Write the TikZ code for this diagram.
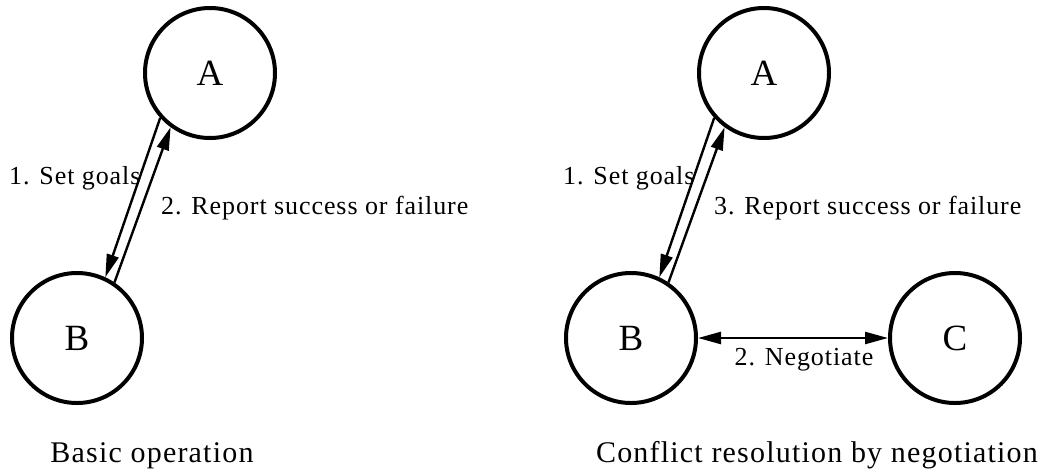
\documentclass[tikz,border=0pt]{standalone}
\usepackage{fontspec}
\setmainfont{Liberation Serif}
\newfontfamily\lblfont[LetterSpace=3.5]{Liberation Serif}
\newfontfamily\capfont[LetterSpace=4]{Liberation Serif}
\usetikzlibrary{arrows.meta}
\begin{document}
\begin{tikzpicture}[x=1pt,y=-1pt,
  agent/.style={circle,draw,line width=4pt,minimum size=130pt,inner sep=0pt,font=\fontsize{37}{40}\selectfont},
  lbl/.style={font=\lblfont\fontsize{26}{30}\selectfont,anchor=base west,inner sep=0pt},
  captext/.style={font=\capfont\fontsize{30}{34}\selectfont,anchor=base,inner sep=0pt},
  tip/.tip={Triangle[length=23pt,width=12pt]},
  arr/.style={-tip,line width=2.4pt},
  darr/.style={tip-tip,line width=2.4pt}]
\useasboundingbox (0,0) rectangle (1055,472);
% left diagram
\node[agent] (A1) at (210,73) {A};
\node[agent] (B1) at (77,338) {B};
\draw[arr] (A1.222) -- (B1.65);
\draw[arr] (B1.56) -- (A1.234);
\node[lbl] (l1) at (9,184) {1. Set goals};
\node[lbl] (l2) at (161,214) {2. Report success or failure};
\node[captext] (c1) at (152,462) {Basic operation};
% right diagram
\node[agent] (A2) at (764,73) {A};
\node[agent] (B2) at (631,338) {B};
\node[agent] (C2) at (955,338) {C};
\draw[arr] (A2.222) -- (B2.65);
\draw[arr] (B2.56) -- (A2.234);
\draw[darr] (B2) -- (C2);
\node[lbl] (r1) at (563,184) {1. Set goals};
\node[lbl] (r3) at (714,214) {3. Report success or failure};
\node[lbl,anchor=base] (r2) at (804,365) {2. Negotiate};
\node[captext] (c2) at (817,462) {Conflict resolution by negotiation};
\end{tikzpicture}
\end{document}
